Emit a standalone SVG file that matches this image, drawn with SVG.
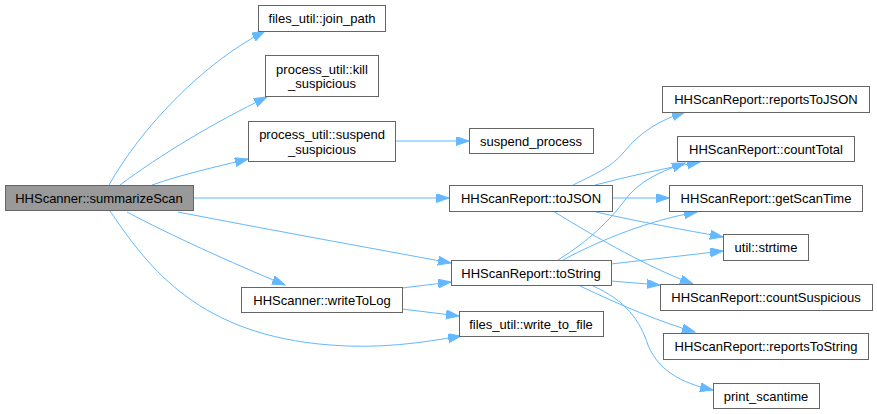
<svg xmlns="http://www.w3.org/2000/svg" width="877" height="414" viewBox="0 0 877 414">
<defs>
<style>
.n rect{fill:#ffffff;stroke:#666666;stroke-width:1}
.n.root rect{fill:#999999}
.n text{font-family:"Liberation Sans",Arial,Helvetica,sans-serif;font-size:13px;fill:#000000;text-anchor:middle}
.e path{fill:none;stroke:#63b8ff;stroke-width:1;marker-end:url(#ah)}
</style>
<marker id="ah" markerUnits="userSpaceOnUse" markerWidth="14" markerHeight="10" refX="13" refY="4.5" orient="auto">
<path d="M0,0 L13,4.5 L0,9 z" fill="#63b8ff" stroke="#63b8ff" stroke-width="1"/>
</marker>
</defs>
<rect width="877" height="414" fill="#ffffff"/>
<g id="edges" class="e">
<path d="M109,185 C140,130 200,65 265,31"/>
<path d="M120,185 C160,155 215,122 267,97"/>
<path d="M152,185 C180,175 215,167 248,159"/>
<path d="M193,198 L449,198"/>
<path d="M178,212 C260,228 370,248 451,263"/>
<path d="M127,212 C170,235 230,262 285,285"/>
<path d="M110,211 C150,270 200,335 330,345 C380,349 420,343 461,336"/>
<path d="M402,288 L451,282"/>
<path d="M402,309 L459,316"/>
<path d="M395,141 L469,141"/>
<path d="M573,185 C600,172 612,166 624,152 C640,132 660,120 685,112"/>
<path d="M595,185 C630,176 665,168 700,162"/>
<path d="M612,198 L669,198"/>
<path d="M596,212 C640,222 685,230 723,237"/>
<path d="M553,211 C600,240 650,268 693,284"/>
<path d="M558,260 C590,240 610,220 625,200 C640,180 660,172 685,163"/>
<path d="M563,260 C600,240 650,220 697,212"/>
<path d="M611,264 L723,251"/>
<path d="M611,281 L660,285"/>
<path d="M580,286 C620,305 660,322 695,332"/>
<path d="M593,286 C625,300 640,320 648,345 C660,375 690,385 713,390"/>
</g>
<g id="summarizeScan" class="n root"><rect x="5.5" y="185.5" width="188" height="25"/><text x="99" y="203">HHScanner::summarizeScan</text></g>
<g id="join_path" class="n"><rect x="258.5" y="5.5" width="127" height="26"/><text x="322" y="23">files_util::join_path</text></g>
<g id="kill_suspicious" class="n"><rect x="265.5" y="55.5" width="113" height="41"/><text x="322" y="74">process_util::kill</text><text x="322" y="88">_suspicious</text></g>
<g id="suspend_suspicious" class="n"><rect x="248.5" y="121.5" width="147" height="40"/><text x="322" y="139">process_util::suspend</text><text x="322" y="154">_suspicious</text></g>
<g id="suspend_process" class="n"><rect x="469.5" y="128.5" width="124" height="25"/><text x="531" y="146">suspend_process</text></g>
<g id="toJSON" class="n"><rect x="449.5" y="185.5" width="163" height="26"/><text x="531" y="203">HHScanReport::toJSON</text></g>
<g id="toString" class="n"><rect x="451.5" y="260.5" width="160" height="25"/><text x="531" y="278">HHScanReport::toString</text></g>
<g id="writeToLog" class="n"><rect x="241.5" y="287.5" width="161" height="25"/><text x="322" y="305">HHScanner::writeToLog</text></g>
<g id="write_to_file" class="n"><rect x="459.5" y="311.5" width="144" height="25"/><text x="531" y="329">files_util::write_to_file</text></g>
<g id="reportsToJSON" class="n"><rect x="662.5" y="86.5" width="207" height="26"/><text x="766" y="104">HHScanReport::reportsToJSON</text></g>
<g id="countTotal" class="n"><rect x="677.5" y="136.5" width="177" height="25"/><text x="766" y="154">HHScanReport::countTotal</text></g>
<g id="getScanTime" class="n"><rect x="669.5" y="185.5" width="193" height="26"/><text x="766" y="203">HHScanReport::getScanTime</text></g>
<g id="strtime" class="n"><rect x="723.5" y="234.5" width="85" height="26"/><text x="766" y="252">util::strtime</text></g>
<g id="countSuspicious" class="n"><rect x="660.5" y="284.5" width="212" height="26"/><text x="766" y="302">HHScanReport::countSuspicious</text></g>
<g id="reportsToString" class="n"><rect x="663.5" y="333.5" width="205" height="26"/><text x="766" y="351">HHScanReport::reportsToString</text></g>
<g id="print_scantime" class="n"><rect x="713.5" y="383.5" width="106" height="25"/><text x="766" y="401">print_scantime</text></g>
</svg>
